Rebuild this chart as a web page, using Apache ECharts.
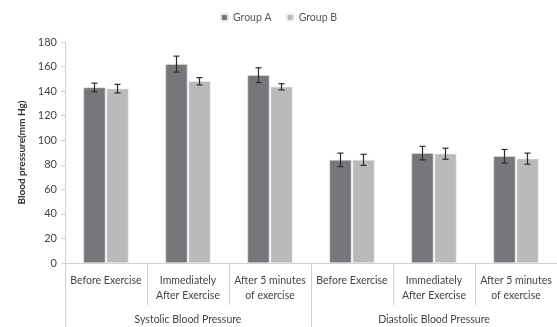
<!DOCTYPE html>
<html>
<head>
<meta charset="utf-8">
<script src="https://cdn.jsdelivr.net/npm/echarts@6/dist/echarts.min.js"></script>
<style>
  html, body { margin: 0; padding: 0; background: #fff; }
  #chart { width: 557px; height: 327px; }
</style>
</head>
<body>
<div id="chart"></div>
<script>
// Measurement conditions (inner axis level) and blood pressure types (outer level)
const conditions = [
  'Before Exercise', 'Immediately\nAfter Exercise', 'After 5 minutes\nof exercise',
  'Before Exercise', 'Immediately\nAfter Exercise', 'After 5 minutes\nof exercise'
];
const pressureTypes = ['Systolic Blood Pressure', 'Diastolic Blood Pressure'];

// Mean blood pressure (mm Hg) and standard deviation for each group
const groupA = [143, 162, 153, 84, 89.5, 87];
const groupAErr = [3.5, 6.5, 6, 5.5, 5.5, 5.5];
const groupB = [142, 148, 143.5, 84, 89, 85];
const groupBErr = [3.5, 3, 2.5, 4.5, 4.5, 4.5];

const yTicks = { min: 0, max: 180, interval: 20 };

const FONT = 'Lato';
const BAR_W = 22;
const BAR_GAP = 1;

function errorSeries(values, errs, side) {
  return {
    type: 'custom',
    silent: true,
    z: 5,
    data: values.map((v, i) => [i, v - errs[i], v + errs[i]]),
    renderItem(params, api) {
      const i = api.value(0);
      const lo = api.coord([i, api.value(1)]);
      const hi = api.coord([i, api.value(2)]);
      const x = lo[0] + side * (BAR_W + BAR_GAP) / 2;
      const cap = 3;
      const style = { stroke: '#2b2b2b', lineWidth: 1.2 };
      return {
        type: 'group',
        children: [
          { type: 'line', shape: { x1: x, y1: hi[1], x2: x, y2: lo[1] }, style },
          { type: 'line', shape: { x1: x - cap, y1: hi[1], x2: x + cap, y2: hi[1] }, style },
          { type: 'line', shape: { x1: x - cap, y1: lo[1], x2: x + cap, y2: lo[1] }, style }
        ]
      };
    }
  };
}

const chart = echarts.init(document.getElementById('chart'), null, { renderer: 'canvas' });
chart.setOption({
  animation: false,
  textStyle: { fontFamily: FONT },
  legend: {
    top: 7,
    left: 'center',
    itemWidth: 7,
    itemHeight: 7,
    itemGap: 14,
    textStyle: { fontFamily: FONT, fontSize: 10.5, color: '#555' },
    data: ['Group A', 'Group B']
  },
  grid: { left: 65, right: 0, top: 42, bottom: 64 },
  xAxis: [
    {
      type: 'category',
      data: conditions,
      axisLine: { show: true, lineStyle: { color: '#d0d0d0' } },
      axisTick: { show: true, length: 42, interval: 0, lineStyle: { color: '#d0d0d0' } },
      axisLabel: {
        interval: 0, margin: 10, fontSize: 10.5, color: '#444',
        lineHeight: 15, fontFamily: FONT
      }
    },
    {
      type: 'category',
      position: 'bottom',
      data: pressureTypes,
      axisLine: { show: false },
      axisTick: { show: true, length: 64, interval: 0, lineStyle: { color: '#d0d0d0' } },
      axisLabel: { interval: 0, margin: 51, fontSize: 10.5, color: '#444', fontFamily: FONT }
    }
  ],
  yAxis: {
    type: 'value',
    min: yTicks.min,
    max: yTicks.max,
    interval: yTicks.interval,
    name: 'Blood pressure(mm Hg)',
    nameLocation: 'middle',
    nameGap: 36,
    nameTextStyle: { fontFamily: FONT, fontSize: 10, fontWeight: 'bold', color: '#333' },
    axisLine: { show: true, lineStyle: { color: '#d0d0d0' } },
    axisTick: { show: true, length: 4, lineStyle: { color: '#d0d0d0' } },
    axisLabel: { fontSize: 11, color: '#444', margin: 8, fontFamily: FONT },
    splitLine: { show: false }
  },
  series: [
    {
      name: 'Group A', type: 'bar', data: groupA, barWidth: BAR_W, barGap: '5%',
      itemStyle: { color: '#76777a', borderColor: '#e6e6e6', borderWidth: 0.6 }
    },
    {
      name: 'Group B', type: 'bar', data: groupB, barWidth: BAR_W,
      itemStyle: { color: '#b9babc', borderColor: '#eeeeee', borderWidth: 0.6 }
    },
    errorSeries(groupA, groupAErr, -1),
    errorSeries(groupB, groupBErr, 1)
  ]
});
</script>
</body>
</html>
